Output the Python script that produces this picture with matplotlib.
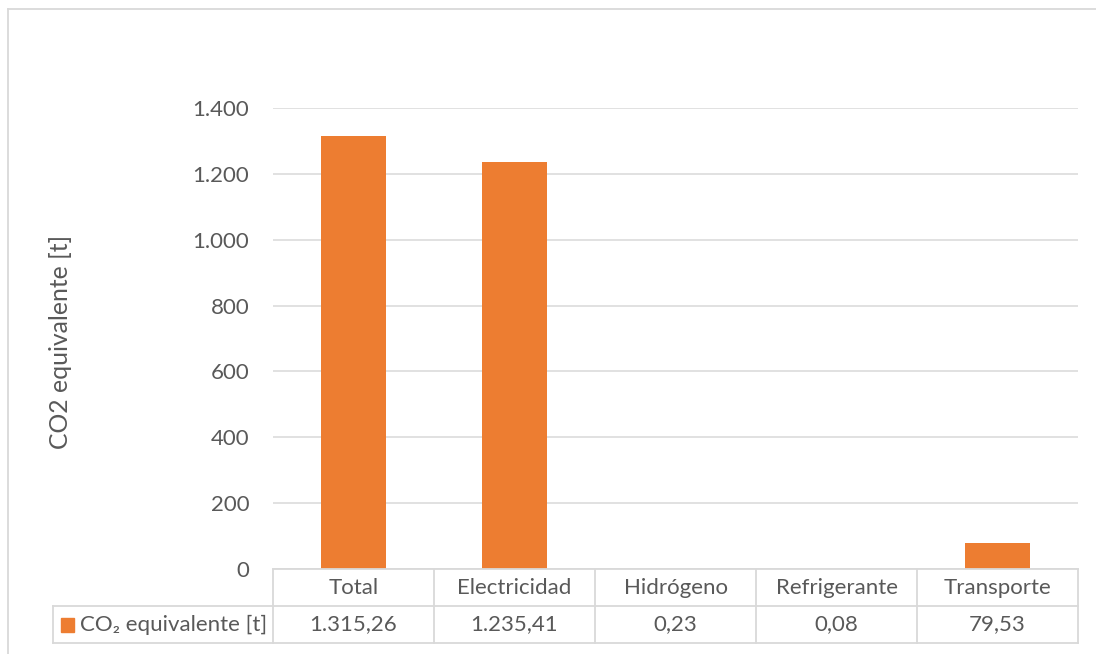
import matplotlib
matplotlib.use("Agg")
import matplotlib.pyplot as plt
from matplotlib.patches import Rectangle
from matplotlib.lines import Line2D
from matplotlib.ticker import FuncFormatter, MultipleLocator

categories = ["Total", "Electricidad", "Hidrógeno", "Refrigerante", "Transporte"]
co2_values = [1315.26, 1235.41, 0.23, 0.08, 79.53]
series_name = "CO₂ equivalente [t]"
axis_title = "CO2 equivalente [t]"

ORANGE = "#ED7D31"
GRID = "#D9D9D9"
TEXT = "#595959"
FONT = ["Lato", "DejaVu Sans"]
FS = 16
FS_TITLE = 17.8

plt.rcParams["font.family"] = FONT


def es_number(v, decimals=0):
    s = f"{v:,.{decimals}f}"
    return s.replace(",", "X").replace(".", ",").replace("X", ".")


W, H = 1096, 654
fig = plt.figure(figsize=(W / 100, H / 100), dpi=100)

# plot area in pixels
left, right, top, bottom = 273, 1078, 108, 569
row_h = 37
ax = fig.add_axes([left / W, 1 - bottom / H, (right - left) / W, (bottom - top) / H])
x = list(range(len(categories)))
ax.bar(x, co2_values, width=0.4, color=ORANGE, zorder=3)
ax.set_xlim(-0.5, len(categories) - 0.5)
ax.set_ylim(0, 1400)
ax.yaxis.set_major_locator(MultipleLocator(200))
ax.yaxis.set_major_formatter(FuncFormatter(lambda v, p: es_number(v)))
ax.grid(axis="y", color=GRID, linewidth=1.1, zorder=0)
ax.set_xticks([])
ax.tick_params(axis="y", length=0, pad=17, labelsize=FS, labelcolor=TEXT)
for s in ax.spines.values():
    s.set_visible(False)

# data table beneath the plot area
tax = fig.add_axes([left / W, 1 - (bottom + 2 * row_h) / H, (right - left) / W, 2 * row_h / H])
n = len(categories)
tax.set_xlim(-0.5, n - 0.5)
tax.set_ylim(0, 2)
tax.axis("off")
cat_px = (right - left) / n
px = 1 / cat_px
label_left = -0.5 - (left - 53) * px
lw = 1.3
line_kw = dict(color=GRID, linewidth=lw, clip_on=False)
tax.plot([-0.5, n - 0.5], [2, 2], **line_kw)
tax.plot([label_left, n - 0.5], [1, 1], **line_kw)
tax.plot([label_left, n - 0.5], [0, 0], **line_kw)
tax.plot([label_left, label_left], [0, 1], **line_kw)
for b in range(n + 1):
    tax.plot([b - 0.5, b - 0.5], [0, 2], **line_kw)
for i, (cat, val) in enumerate(zip(categories, co2_values)):
    tax.text(i, 1.5, cat, ha="center", va="center", fontsize=FS, color=TEXT)
    tax.text(i, 0.5, es_number(val, 2), ha="center", va="center", fontsize=FS, color=TEXT)
key_x = label_left + 8 * px
tax.add_patch(Rectangle((key_x, 0.5 - 7 / row_h), 13 * px, 14 / row_h,
                        color=ORANGE, clip_on=False))
tax.text(key_x + 19 * px, 0.5, series_name, ha="left", va="center",
         fontsize=FS, color=TEXT)

fig.text(60 / W, 1 - 342 / H, axis_title, rotation=90, ha="center", va="center",
         fontsize=FS_TITLE, color=TEXT)

# chart frame
fig.add_artist(Line2D([8 / W, 8 / W], [0, 1 - 9 / H], color=GRID, linewidth=1.3,
                      transform=fig.transFigure))
fig.add_artist(Line2D([8 / W, 1], [1 - 9 / H, 1 - 9 / H], color=GRID, linewidth=1.3,
                      transform=fig.transFigure))

fig.savefig("out.png", dpi=100, facecolor="white")
